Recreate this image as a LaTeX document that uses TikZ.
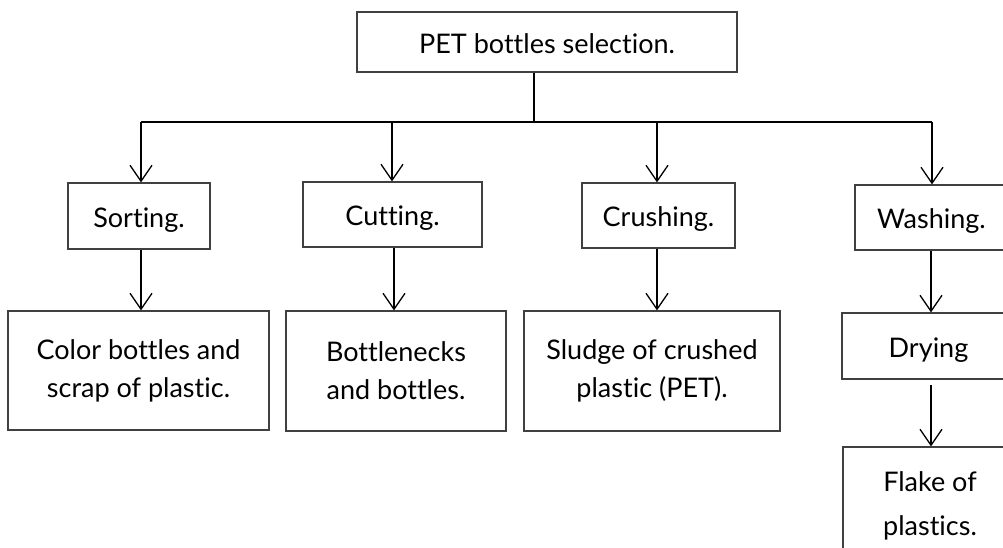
\documentclass[tikz,border=0pt]{standalone}
\usepackage{fontspec}
\setmainfont{Lato}[Ligatures={NoCommon}, RawFeature={-liga}]
\usetikzlibrary{arrows.meta}
\begin{document}
\begin{tikzpicture}[x=1pt,y=-1pt,
  box/.style={draw=black!75, line width=1.2pt, inner sep=0pt, align=center,
    font=\fontsize{27}{38}\selectfont},
  onebox/.style={box, text height=23pt, text depth=1pt},
  conn/.style={line width=1.3pt, draw=black},
  arr/.style={conn, -{Straight Barb[length=16pt,width=22pt,line width=1.3pt]}}]
\useasboundingbox[fill=white] (0,0) rectangle (1003,547);
% boxes
\node[onebox, minimum width=380, minimum height=60] (top) at (547,42) {PET bottles selection.};
\node[onebox, minimum width=142, minimum height=66] (sort) at (139,216) {Sorting.};
\node[onebox, minimum width=179, minimum height=65] (cut) at (392.5,214.5) {Cutting.};
\node[onebox, minimum width=153, minimum height=65] (crush) at (658.5,215.5) {Crushing.};
\node[onebox, minimum width=153, minimum height=65] (wash) at (931.5,217.5) {Washing.};
\node[box, minimum width=261, minimum height=119] (color) at (138.5,370.5) {Color bottles and\\scrap of plastic.};
\node[box, minimum width=220, minimum height=120] (neck) at (396,371) {Bottlenecks\\and bottles.};
\node[box, minimum width=256, minimum height=120] (sludge) at (652,371) {Sludge of crushed\\plastic (PET).};
\node[onebox, minimum width=173, minimum height=66] (dry) at (928.5,346) {Drying};
\node[box, minimum width=174, minimum height=132] (flake) at (930,513) {};
\node[font=\fontsize{27}{44}\selectfont, align=center, inner sep=0pt] (flaketext) at (930,506) {Flake of\\plastics.};
% junction coordinates
\coordinate (tj) at (534,122);
\coordinate (hl) at (141,122);
\coordinate (hr) at (932,122);
\coordinate (dryout) at (931,385);
% connectors
\draw[conn] (top.south -| tj) -- (tj);
\draw[conn] (hl) -- (hr);
\draw[arr] (hl) -- (sort.north -| hl);
\draw[arr] (cut.north -| 392,0) ++(0,-60) -- (cut.north -| 392,0);
\draw[arr] (crush.north -| 657,0) ++(0,-61) -- (crush.north -| 657,0);
\draw[arr] (hr) -- (wash.north -| hr);
\draw[arr] (sort.south -| 141,0) -- (color.north -| 141,0);
\draw[arr] (cut.south -| 394,0) -- (neck.north -| 394,0);
\draw[arr] (crush.south -| 657,0) -- (sludge.north -| 657,0);
\draw[arr] (wash.south -| 931,0) -- (dry.north -| 931,0);
\draw[arr] (dryout) -- (flake.north -| dryout);
\end{tikzpicture}
\end{document}
